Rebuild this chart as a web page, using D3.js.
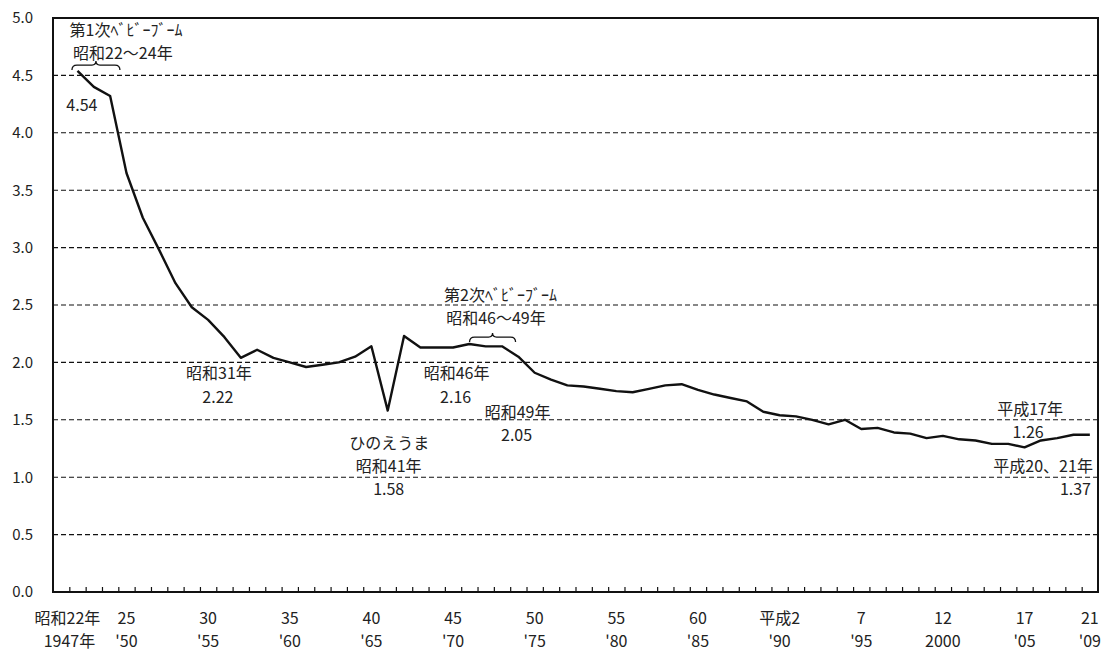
<!DOCTYPE html>
<html>
<head>
<meta charset="utf-8">
<script src="https://cdn.jsdelivr.net/npm/d3@7"></script>
<style>
  html, body { margin: 0; padding: 0; background: #fff; }
  svg { display: block; }
  text { font-family: "Noto Sans CJK JP", "Noto Sans", sans-serif; fill: #222; }
</style>
</head>
<body>
<svg id="chart" width="1113" height="653"></svg>
<script>
// ---- data ----
const years = [1947,1948,1949,1950,1951,1952,1953,1954,1955,1956,1957,1958,1959,1960,1961,1962,1963,1964,1965,1966,1967,1968,1969,1970,1971,1972,1973,1974,1975,1976,1977,1978,1979,1980,1981,1982,1983,1984,1985,1986,1987,1988,1989,1990,1991,1992,1993,1994,1995,1996,1997,1998,1999,2000,2001,2002,2003,2004,2005,2006,2007,2008,2009];
const tfr = [4.54,4.40,4.32,3.65,3.26,2.98,2.69,2.48,2.37,2.22,2.04,2.11,2.04,2.00,1.96,1.98,2.00,2.05,2.14,1.58,2.23,2.13,2.13,2.13,2.16,2.14,2.14,2.05,1.91,1.85,1.80,1.79,1.77,1.75,1.74,1.77,1.80,1.81,1.76,1.72,1.69,1.66,1.57,1.54,1.53,1.50,1.46,1.50,1.42,1.43,1.39,1.38,1.34,1.36,1.33,1.32,1.29,1.29,1.26,1.32,1.34,1.37,1.37];

const yTicks = [0,0.5,1.0,1.5,2.0,2.5,3.0,3.5,4.0,4.5,5.0];
const labelYears = [1947,1950,1955,1960,1965,1970,1975,1980,1985,1990,1995,2000,2005,2009];
const eraLabels = ["昭和22年","25","30","35","40","45","50","55","60","平成2","7","12","17","21"];
const westernLabels = ["1947年","'50","'55","'60","'65","'70","'75","'80","'85","'90","'95","2000","'05","'09"];

// annotation lines, anchored in data coordinates (year, rate); lines sharing a group form one label
const annotationTexts = ["第1次ﾍﾞﾋﾞｰﾌﾞｰﾑ","昭和22～24年","4.54","昭和31年","2.22","ひのえうま","昭和41年","1.58","第2次ﾍﾞﾋﾞｰﾌﾞｰﾑ","昭和46～49年","昭和46年","2.16","昭和49年","2.05","平成17年","1.26","平成20、21年","1.37"];
const annotationGroup = [0,0,1,2,2,3,3,3,4,4,5,5,6,6,7,7,8,8];
const annotationYears = [1949.97,1949.78,1947.27,1955.66,1955.6,1966.09,1966.06,1966.06,1972.91,1972.63,1970.22,1970.16,1973.95,1973.89,2005.34,2005.22,2006.14,2008.12];
const annotationRates = [4.895,4.695,4.242,1.908,1.699,1.298,1.098,0.897,2.587,2.387,1.908,1.699,1.568,1.368,1.594,1.394,1.098,0.897];

const braceFrom = [1946.66, 1971.01];
const braceTo = [1949.6, 1973.83];
const braceRate = [4.59, 2.221];

(function () {
// ---- scales ----
const svg = d3.select("#chart");
const pL = 53, pR = 1098, pT = 18, pB = 592;
const x = d3.scaleLinear().domain([1945.5, 2009.5]).range([pL, pR]);
const y = d3.scaleLinear().domain([0, 5]).range([pB, pT]);

// gridlines (dashed)
svg.append("g").selectAll("line")
  .data(yTicks.filter(v => v > 0 && v < 5))
  .join("line")
  .attr("x1", pL).attr("x2", pR)
  .attr("y1", d => y(d)).attr("y2", d => y(d))
  .attr("stroke", "#111").attr("stroke-width", 1.1)
  .attr("stroke-dasharray", "5,3");

// y-axis labels
const yAxis = d3.axisLeft(y).tickValues(yTicks).tickFormat(d3.format(".1f")).tickSize(0).tickPadding(20);
const gy = svg.append("g").attr("transform", `translate(${pL},0)`).call(yAxis);
gy.select(".domain").remove();
gy.selectAll("text").style("font-size", "15px").style("font-family", "'Noto Sans CJK JP', sans-serif").attr("fill", "#222");

// x ticks at category boundaries (inside)
const bounds = d3.range(1946.5, 2009, 1);
const xAxis = d3.axisBottom(x).tickValues(bounds).tickSize(-5).tickFormat("");
const gx = svg.append("g").attr("transform", `translate(0,${pB})`).call(xAxis);
gx.select(".domain").remove();
gx.selectAll("line").attr("stroke", "#111").attr("stroke-width", 1.2);

// frame
svg.append("rect").attr("x", pL).attr("y", pT)
  .attr("width", pR - pL).attr("height", pB - pT)
  .attr("fill", "none").attr("stroke", "#111").attr("stroke-width", 2);

// x labels (two-line category labels: era year / western year)
const xl = svg.append("g").selectAll("text").data(labelYears).join("text")
  .attr("text-anchor", "middle")
  .style("font-size", "16px");
xl.append("tspan")
  .attr("x", (d, i) => x(d) + (i === 0 ? -10 : 0))
  .attr("y", 618.5).attr("dy", "0.35em")
  .text((d, i) => eraLabels[i]);
xl.append("tspan")
  .attr("x", (d, i) => x(d) + (i === 0 ? -8 : 0))
  .attr("y", 641.5).attr("dy", "0.35em")
  .text((d, i) => westernLabels[i]);

// line
const line = d3.line().x((d, i) => x(years[i])).y(d => y(d));
svg.append("path").datum(tfr)
  .attr("d", line)
  .attr("fill", "none").attr("stroke", "#111").attr("stroke-width", 2.4)
  .attr("stroke-linejoin", "round");

// annotations (multi-line labels)
const groups = d3.groups(d3.range(annotationTexts.length), i => annotationGroup[i]);
const ann = svg.append("g").selectAll("text").data(groups).join("text")
  .attr("text-anchor", "middle")
  .style("font-size", "16px");
ann.selectAll("tspan").data(g => g[1]).join("tspan")
  .attr("x", i => x(annotationYears[i]))
  .attr("y", i => y(annotationRates[i]))
  .attr("dy", "0.35em")
  .text(i => annotationTexts[i]);

// braces
function bracePath(x0, x1, yy) {
  const xm = (x0 + x1) / 2;
  return `M${x0},${yy + 5} Q${x0},${yy} ${x0 + 5},${yy} L${xm - 4},${yy} Q${xm},${yy} ${xm},${yy - 4} Q${xm},${yy} ${xm + 4},${yy} L${x1 - 5},${yy} Q${x1},${yy} ${x1},${yy + 5}`;
}
svg.append("g").selectAll("path").data(braceFrom).join("path")
  .attr("d", (d, i) => bracePath(x(d), x(braceTo[i]), y(braceRate[i])))
  .attr("fill", "none").attr("stroke", "#111").attr("stroke-width", 1.3);
})();
</script>
</body>
</html>
